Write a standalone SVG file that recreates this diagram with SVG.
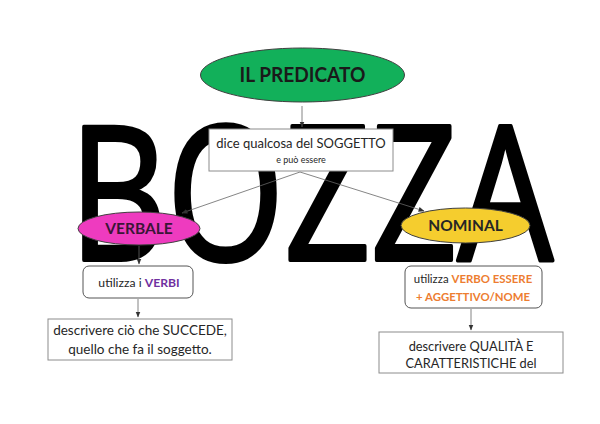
<svg xmlns="http://www.w3.org/2000/svg" width="600" height="424" viewBox="0 0 600 424">
<defs>
<marker id="ah" viewBox="0 0 10 10" refX="9" refY="5" markerWidth="6" markerHeight="6" orient="auto" markerUnits="userSpaceOnUse">
<path d="M0,1 L10,5 L0,9 z" fill="#333"/>
</marker>
<style>
.t{font-family:Lato,"Open Sans","Liberation Sans",sans-serif;fill:#262626;}
.b{font-weight:bold;}
.box{fill:#fff;stroke:#8c8c8c;stroke-width:1;}
.rbox{fill:#fff;stroke:#555;stroke-width:1;}
.el{stroke:#404040;stroke-width:1;}
.c{stroke:#666;stroke-width:0.8;fill:none;marker-end:url(#ah);}
</style>
</defs>
<rect width="600" height="424" fill="#fff"/>
<text x="69" y="260" font-family="'Open Sans',sans-serif" font-weight="400" font-size="187" fill="#000" stroke="#000" stroke-width="4" stroke-linejoin="round" textLength="484" lengthAdjust="spacingAndGlyphs">BOZZA</text>
<g id="connectors">
<line class="c" x1="302" y1="106" x2="302" y2="127"/>
<line class="c" x1="300" y1="172" x2="182" y2="213"/>
<line class="c" x1="300" y1="172" x2="424" y2="211"/>
<line class="c" x1="139" y1="246" x2="139" y2="264"/>
<line class="c" x1="138" y1="299" x2="138" y2="317"/>
<line class="c" x1="471" y1="309" x2="471" y2="330"/>
</g>
<g id="predicato">
<ellipse class="el" cx="302.5" cy="75" rx="102" ry="27" fill="#12b05a"/>
<text class="t b" x="302.5" y="82" font-size="20" text-anchor="middle" textLength="126" lengthAdjust="spacingAndGlyphs" style="fill:#1a1a1a">IL PREDICATO</text>
</g>
<g id="dice">
<rect class="box" x="209" y="129" width="184" height="42"/>
<text class="t" x="301" y="148" font-size="13" text-anchor="middle">dice qualcosa del SOGGETTO</text>
<text class="t" x="301" y="163" font-size="9" text-anchor="middle">e può essere</text>
</g>
<g id="verbale">
<ellipse class="el" cx="139" cy="228.5" rx="61" ry="16.5" fill="#ee3bbf"/>
<text class="t b" x="139" y="234" font-size="15.5" text-anchor="middle" style="fill:#3a1636">VERBALE</text>
</g>
<g id="verbi">
<rect class="rbox" x="83" y="266" width="110" height="32" rx="6"/>
<text class="t" x="139" y="287" font-size="12.2" text-anchor="middle">utilizza i <tspan class="b" style="fill:#7030a0">VERBI</tspan></text>
</g>
<g id="succede">
<rect class="box" x="48" y="319" width="184" height="41"/>
<text class="t" x="140" y="335" font-size="13.5" text-anchor="middle">descrivere ciò che SUCCEDE,</text>
<text class="t" x="140" y="354" font-size="13.5" text-anchor="middle">quello che fa il soggetto.</text>
</g>
<g id="nominal">
<ellipse class="el" cx="465.5" cy="225.5" rx="64.5" ry="17.5" fill="#f5cd2e"/>
<text class="t b" x="465.5" y="231" font-size="15.5" text-anchor="middle" style="fill:#262626">NOMINAL</text>
</g>
<g id="essere">
<rect class="rbox" x="405" y="266" width="137" height="42" rx="6"/>
<text class="t" x="473" y="283" font-size="11.4" text-anchor="middle">utilizza <tspan class="b" style="fill:#ed7d31">VERBO ESSERE</tspan></text>
<text class="t b" x="473" y="301" font-size="11.4" text-anchor="middle" style="fill:#ed7d31">+ AGGETTIVO/NOME</text>
</g>
<g id="qualita">
<rect class="box" x="379" y="332" width="184" height="41"/>
<text class="t" x="471" y="351" font-size="12.8" text-anchor="middle">descrivere QUALITÀ E</text>
<text class="t" x="471" y="368" font-size="12.8" text-anchor="middle">CARATTERISTICHE del</text>
</g>
</svg>
